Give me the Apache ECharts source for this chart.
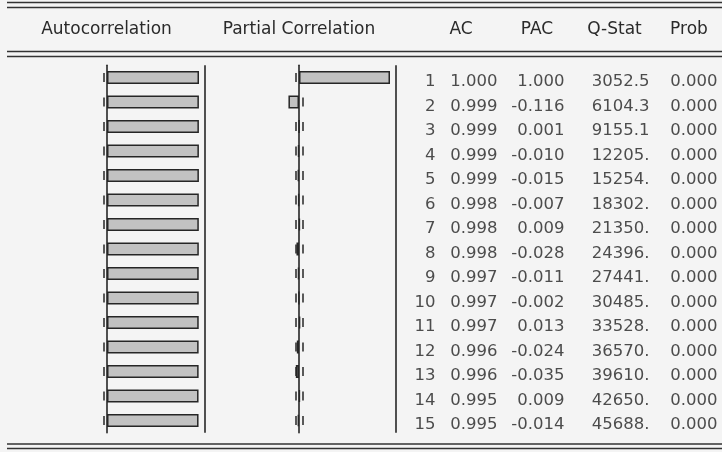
<!DOCTYPE html>
<html>
<head>
<meta charset="utf-8">
<script src="https://cdn.jsdelivr.net/npm/echarts@6/dist/echarts.min.js"></script>
<style>
html,body{margin:0;padding:0;background:#f4f4f4;}
#chart{width:722px;height:452px;}
</style>
</head>
<body>
<div id="chart"></div>
<script>
// ---- data ----
const lags = [1,2,3,4,5,6,7,8,9,10,11,12,13,14,15];
const acValues = [1.000,0.999,0.999,0.999,0.999,0.998,0.998,0.998,0.997,0.997,0.997,0.996,0.996,0.995,0.995];
const pacValues = [1.000,-0.116,0.001,-0.010,-0.015,-0.007,0.009,-0.028,-0.011,-0.002,0.013,-0.024,-0.035,0.009,-0.014];
const qStatValues = [3052.5,6104.3,9155.1,12205,15254,18302,21350,24396,27441,30485,33528,36570,39610,42650,45688];
const probValues = [0,0,0,0,0,0,0,0,0,0,0,0,0,0,0];
const seBound = 0.036;
const headerLabels = ['Autocorrelation','Partial Correlation','AC','PAC','Q-Stat','Prob'];

// ---- layout ----
const FONT = 'DejaVu Sans';
const INK = '#262626';
const ROW_TOP = 65.25, ROWS_H = 367.5, TEXT_SHIFT = 4.5;
const AC_MAX = 1.08, PAC_MAX = 1.08;
const AC_EDGE = 1.063, PAC_EDGE = 1.06;
const COL_RIGHT = {lag: 436, ac: 498, pac: 565, q: 650, prob: 718};
const HEADER_X = [106.5, 299, 461, 537, 614.5, 689];
const HEADER_Y = 30;

function fmtQ(v){ return v >= 10000 ? String(Math.round(v)) + '.' : v.toFixed(1); }
function fmt3(v){ return v.toFixed(3); }

const barStyle = {color:'#c2c2c2', borderColor:INK, borderWidth:1.5};
const dashStyle = {color:INK, width:1.5, type:[9,15.5], dashOffset:16.75};
const solidStyle = {color:INK, width:1.6, type:'solid'};

function boundLines(edge){
  return {
    silent:true, symbol:['none','none'], z:1, animation:false,
    label:{show:false},
    data:[
      {xAxis:-seBound, lineStyle:dashStyle},
      {xAxis:seBound, lineStyle:dashStyle},
      {xAxis:edge, lineStyle:solidStyle}
    ]
  };
}

const catAxis = (gi)=>({
  type:'category', gridIndex:gi, data:lags, inverse:true,
  axisLine:{show:gi<2, onZero:true, lineStyle:{color:INK, width:1.6}},
  axisTick:{show:false}, axisLabel:{show:false}, splitLine:{show:false}
});
const valAxis = (gi,min,max)=>({
  type:'value', gridIndex:gi, min:min, max:max,
  axisLine:{show:false}, axisTick:{show:false}, axisLabel:{show:false}, splitLine:{show:false}
});

function textSeries(key, values, formatter){
  return {
    type:'scatter', xAxisIndex:2, yAxisIndex:2, z:5,
    symbolSize:1, itemStyle:{color:'transparent'}, silent:true,
    data: values.map((v,i)=>[COL_RIGHT[key], i]),
    label:{show:true, position:'left', distance:0,
      formatter:(p)=>formatter(values[p.dataIndex]),
      fontFamily:FONT, fontSize:16.5, color:'#222'}
  };
}

const hRule = (y)=>({type:'line', silent:true,
  shape:{x1:7, y1:y, x2:722, y2:y}, style:{stroke:'#333', lineWidth:1.6}});

// px per unit ~92 (AC) and ~91 (PAC)
const acLeft = 15, acWidth = 92 * (1 + AC_MAX);
const pacLeft = 208, pacWidth = 91 * (1 + PAC_MAX);

const chart = echarts.init(document.getElementById('chart'), null, {renderer:'canvas'});
chart.setOption({
  animation:false,
  backgroundColor:'#f4f4f4',
  grid:[
    {left:acLeft, width:acWidth, top:ROW_TOP, height:ROWS_H},
    {left:pacLeft, width:pacWidth, top:ROW_TOP, height:ROWS_H},
    {left:0, width:722, top:ROW_TOP+TEXT_SHIFT, height:ROWS_H}
  ],
  xAxis:[valAxis(0,-1,AC_MAX), valAxis(1,-1,PAC_MAX), valAxis(2,0,722)],
  yAxis:[catAxis(0), catAxis(1), catAxis(2)],
  series:[
    {type:'bar', xAxisIndex:0, yAxisIndex:0, data:acValues, barWidth:13, z:3,
     itemStyle:barStyle, markLine:boundLines(AC_EDGE)},
    {type:'bar', xAxisIndex:1, yAxisIndex:1, data:pacValues, barWidth:13, z:3,
     itemStyle:barStyle, markLine:boundLines(PAC_EDGE)},
    textSeries('lag', lags, v=>String(v)),
    textSeries('ac', acValues, fmt3),
    textSeries('pac', pacValues, fmt3),
    textSeries('q', qStatValues, fmtQ),
    textSeries('prob', probValues, fmt3)
  ],
  graphic:[
    hRule(2.5), hRule(7.5), hRule(51.5), hRule(56.5), hRule(444), hRule(448.5),
    ...headerLabels.map((t,i)=>({type:'text', silent:true, x:HEADER_X[i], y:HEADER_Y,
      style:{text:t, fontFamily:FONT, fontSize:17, fill:'#2a2a2a', align:'center', verticalAlign:'middle'}}))
  ]
});
</script>
</body>
</html>
